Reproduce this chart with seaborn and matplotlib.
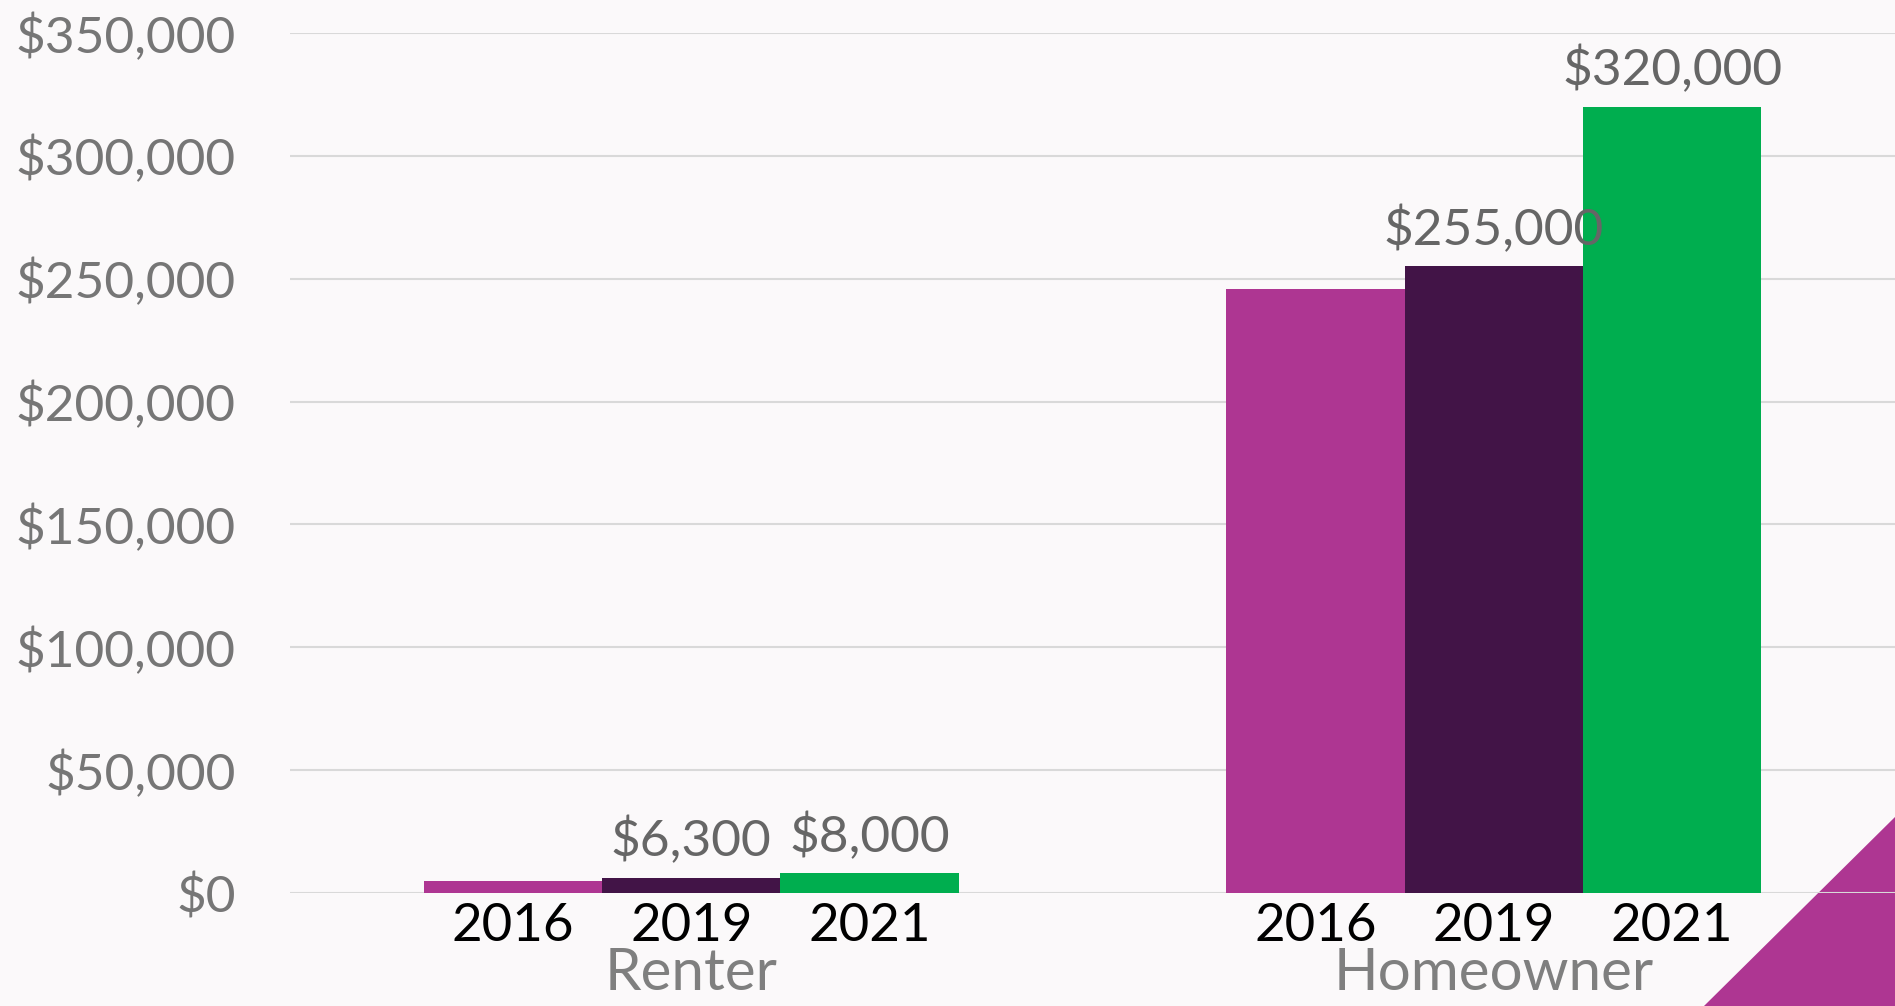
import pandas as pd
import matplotlib.pyplot as plt
import matplotlib.transforms as mtransforms
from matplotlib.patches import Polygon
import seaborn as sns

# =========================
# Data
# =========================

groups = ["Renter", "Homeowner"]
years = ["2016", "2019", "2021"]
renter_values = [5000, 6300, 8000]
homeowner_values = [246000, 255000, 320000]
# 2016 bars carry no value label in the source chart
show_label = [False, True, True]

colors = ["#AE3692", "#421447", "#00AE4F"]
y_ticks = [0, 50000, 100000, 150000, 200000, 250000, 300000, 350000]

df = pd.DataFrame({
    "group": [g for g in groups for _ in years],
    "year": years * len(groups),
    "value": renter_values + homeowner_values,
})

# =========================
# Figure
# =========================

sns.set_theme(style="white")
plt.rcParams["font.family"] = ["Lato", "DejaVu Sans"]

fig = plt.figure(figsize=(18.95, 10.06), dpi=100)
fig.patch.set_facecolor("#fbf9fa")

# purple corner triangle
fig.patches.append(Polygon(
    [(1704 / 1895, 0), (1, 0), (1, 189 / 1006)],
    closed=True, transform=fig.transFigure,
    facecolor="#AE3692", edgecolor="none", zorder=-1
))

ax = fig.add_axes([290 / 1895, 113 / 1006, 1 - 290 / 1895, 860 / 1006])
ax.set_facecolor("none")

sns.barplot(
    data=df, x="group", y="value", hue="year",
    order=groups, hue_order=years, palette=colors,
    width=2 / 3, saturation=1, ax=ax, legend=False, linewidth=0
)

ax.set_xlim(-0.5, 1.5)
ax.set_ylim(0, 350000)
ax.set_yticks(y_ticks)
ax.set_yticklabels([f"${v:,.0f}" for v in y_ticks])
ax.yaxis.grid(True, color="#d9d9d9", linewidth=1.5)
ax.set_axisbelow(True)
for spine in ax.spines.values():
    spine.set_visible(False)
ax.tick_params(axis="y", length=0, pad=39, labelsize=37, labelcolor="#767676")
ax.set_xlabel("")
ax.set_ylabel("")

# value labels above the bars
for i, container in enumerate(ax.containers):
    labels = [f"${b.get_height():,.0f}" if show_label[i] else "" for b in container]
    ax.bar_label(container, labels=labels, padding=9, fontsize=37, color="#666666")

# year labels under every bar, group names below them
centers, tick_labels = [], []
for i, container in enumerate(ax.containers):
    for b in container:
        centers.append(b.get_x() + b.get_width() / 2)
        tick_labels.append(years[i])
ax.set_xticks(centers)
ax.set_xticklabels(tick_labels)
ax.tick_params(axis="x", length=0, pad=7, labelsize=38, labelcolor="black")

trans = mtransforms.blended_transform_factory(ax.transData, ax.transAxes)
for i, g in enumerate(groups):
    ax.text(i, -0.113, g, transform=trans, ha="center", va="baseline",
            fontsize=42, color="#7f7f7f", clip_on=False)

fig.savefig("out.png", dpi=100, facecolor=fig.get_facecolor())
